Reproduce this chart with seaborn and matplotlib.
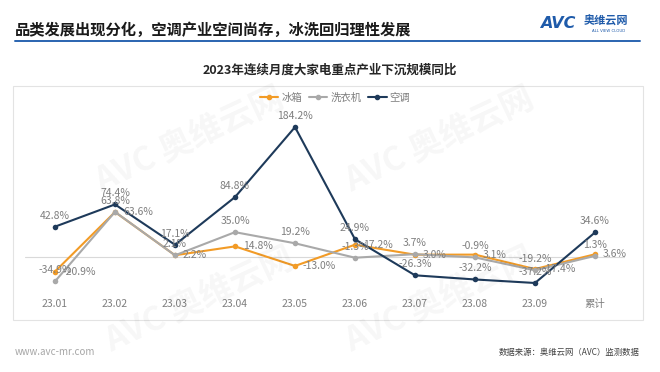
import numpy as np
import pandas as pd
import matplotlib
matplotlib.use('Agg')
import matplotlib.pyplot as plt
import seaborn as sns
from matplotlib.lines import Line2D
from matplotlib.patches import Rectangle

months = ['23.01', '23.02', '23.03', '23.04', '23.05', '23.06', '23.07', '23.08', '23.09', '累计']
fridge = [-20.9, 63.6, 2.2, 14.8, -13.0, 17.2, 3.0, 3.1, -17.4, 3.6]
washer = [-34.9, 63.8, 2.1, 35.0, 19.2, -1.3, 3.7, -0.9, -19.2, 1.3]
aircon = [42.8, 74.4, 17.1, 84.8, 184.2, 24.9, -26.3, -32.2, -37.2, 34.6]
series_names = ['冰箱', '洗衣机', '空调']
colors = ['#F29B26', '#A9A9A9', '#1E3A5A']

sns.set_theme(style='white')
plt.rcParams['font.family'] = ['Noto Sans CJK SC', 'DejaVu Sans']
plt.rcParams['axes.unicode_minus'] = False

df = pd.DataFrame({
    'month': months * 3,
    'value': fridge + washer + aircon,
    'series': [s for s in series_names for _ in months],
})

W, H = 660, 372
fig = plt.figure(figsize=(W / 100, H / 100), dpi=100)

def fx(px):
    return px / W

def fy(py):
    return 1 - py / H

# header
fig.text(fx(15), fy(30), '品类发展出现分化，空调产业空间尚存，冰洗回归理性发展',
         fontsize=11, fontweight='bold', color='#1a1a1a', va='center', ha='left')
fig.add_artist(Line2D([fx(15), fx(640)], [fy(41), fy(41)], color='#2A64B0', lw=1.4))
fig.text(fx(540), fy(24), 'AVC', fontsize=11.5, fontweight='bold', style='italic',
         color='#1F5BAA', va='center', ha='left', family='DejaVu Sans')
fig.text(fx(584), fy(21), '奥维云网', fontsize=8, fontweight='bold', color='#1F5BAA',
         va='center', ha='left')
fig.text(fx(609), fy(31), 'ALL VIEW CLOUD', fontsize=2.8, color='#1F5BAA',
         va='center', ha='center', family='DejaVu Sans')

# chart frame
fig.add_artist(Rectangle((fx(13), fy(320)), fx(643) - fx(13), fy(86) - fy(320),
                         transform=fig.transFigure, fill=False, edgecolor='#E3E3E3', lw=0.8))
fig.text(0.5, fy(70), '2023年连续月度大家电重点产业下沉规模同比', fontsize=9,
         fontweight='bold', color='#262626', ha='center', va='center')

# watermarks
for (x, y) in [(190, 140), (440, 140), (200, 300), (440, 300)]:
    fig.text(fx(x), fy(y), 'AVC 奥维云网', fontsize=24, fontweight='bold', color='#000000',
             alpha=0.035, rotation=25, ha='center', va='center')

ax = fig.add_axes([fx(25), fy(292), fx(625) - fx(25), fy(116) - fy(292)])
sns.lineplot(data=df, x='month', y='value', hue='series', palette=colors,
             hue_order=series_names, sort=False, marker='o', markersize=4,
             markeredgewidth=0, linewidth=1.5, legend=False, ax=ax)
ax.set_xlim(-0.5, len(months) - 0.5)
ax.set_ylim(-50, 200)
ax.axhline(0, color='#D9D9D9', lw=0.8, zorder=0)
for s in ax.spines.values():
    s.set_visible(False)
ax.set_yticks([])
ax.set_xlabel('')
ax.set_ylabel('')
ax.tick_params(axis='x', length=0, labelsize=7.5, labelcolor='#7F7F7F', pad=5)

label_color = '#7F7F7F'
for i, m in enumerate(months):
    ax.annotate(f'{fridge[i]:.1f}%', (i, fridge[i]), xytext=(8, 0), textcoords='offset pixels',
                ha='left', va='center', fontsize=7.5, color=label_color)
    ax.annotate(f'{washer[i]:.1f}%', (i, washer[i]), xytext=(0, 11), textcoords='offset pixels',
                ha='center', va='center', fontsize=7.5, color=label_color)
    ax.annotate(f'{aircon[i]:.1f}%', (i, aircon[i]), xytext=(0, 11), textcoords='offset pixels',
                ha='center', va='center', fontsize=7.5, color=label_color)

handles = [Line2D([0], [0], color=c, lw=1.5, marker='o', markersize=3) for c in colors]
fig.legend(handles, series_names, loc='center', bbox_to_anchor=(fx(335), fy(98)), ncol=3,
           frameon=False, fontsize=7.5, labelcolor='#7F7F7F', handlelength=1.8,
           handletextpad=0.3, columnspacing=0.6)

# footer
fig.text(fx(15), fy(352), 'www.avc-mr.com', fontsize=7, color='#A6A6A6', ha='left', va='center')
fig.text(fx(640), fy(352), '数据来源：奥维云网（AVC）监测数据', fontsize=6, color='#404040',
         ha='right', va='center')

fig.savefig('out.png', dpi=100)
